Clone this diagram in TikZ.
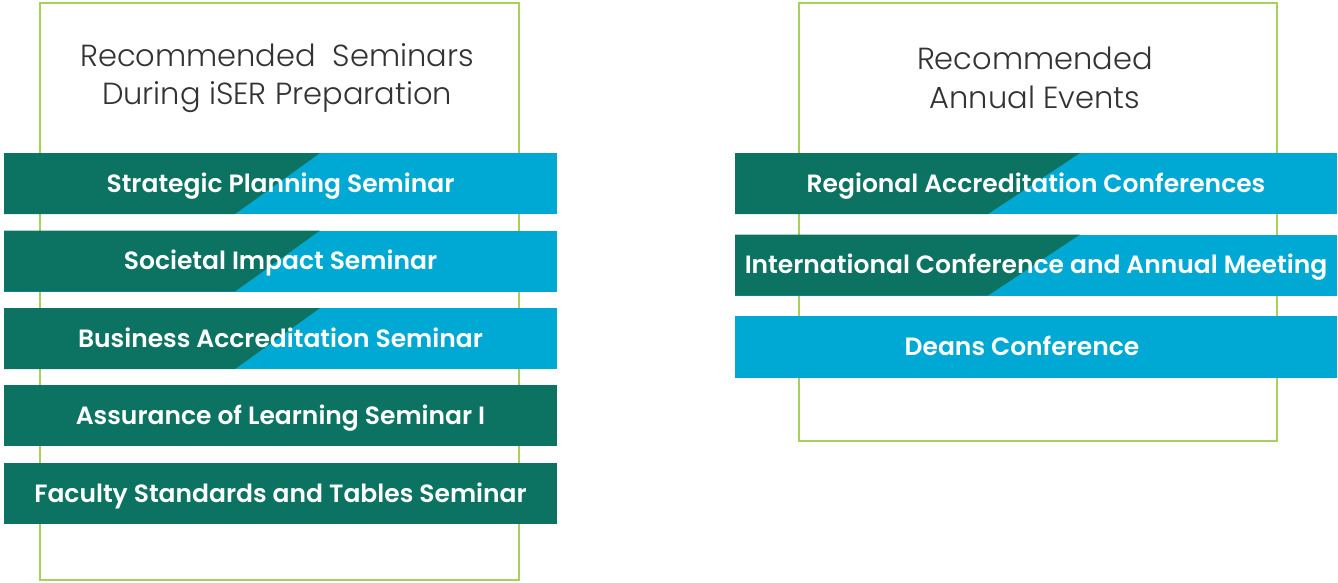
\documentclass[tikz,border=0pt]{standalone}
\usepackage{fontspec}
\setmainfont{Poppins}
\newfontfamily\barfont{Poppins SemiBold}
\newfontfamily\titlefont{Poppins Light}
\definecolor{darkteal}{HTML}{0C7262}
\definecolor{skyblue}{HTML}{00A9D4}
\definecolor{framegreen}{HTML}{A8D05C}
\definecolor{titlegray}{HTML}{333333}
\begin{document}
\begin{tikzpicture}[x=1pt,y=-1pt,
  frame/.style={draw=framegreen,line width=2.5pt,fill=white},
  titletext/.style={text=titlegray,font=\titlefont\fontsize{30.5}{38.5}\selectfont,align=center,inner sep=0pt},
  barbase/.style={inner sep=0pt,text=white,font=\barfont\fontsize{25}{30}\selectfont,anchor=center,text height=17.5pt,text depth=0pt},
  lbar/.style={barbase,minimum width=553pt,minimum height=61pt},
  rbar/.style={barbase,minimum width=602pt,minimum height=61pt},
  lsplit/.style={fill=skyblue,path picture={\fill[darkteal] (path picture bounding box.south west) -- ++(231,0) -- ++(85,-61) -- (path picture bounding box.north west) -- cycle;}},
  rsplit/.style={fill=skyblue,path picture={\fill[darkteal] (path picture bounding box.south west) -- ++(253,0) -- ++(92,-61) -- (path picture bounding box.north west) -- cycle;}},
  solidgreen/.style={fill=darkteal},
  solidblue/.style={fill=skyblue}
]
\useasboundingbox (0,0) rectangle (1338,582);
% frames
\node[frame,minimum width=479pt,minimum height=577pt,inner sep=0pt] (lframe) at (279.5,291.5) {};
\node[frame,minimum width=478pt,minimum height=438pt,inner sep=0pt] (rframe) at (1038,222) {};
% titles
\node[titletext] (ltitle) at (277,78) {Recommended\ \ Seminars\\During iSER Preparation};
\node[titletext] (rtitle) at (1035,78) {Recommended\\Annual Events};
% left bars
\node[lbar,lsplit] (l1) at (280.5,183.5) {Strategic Planning Seminar};
\node[lbar,lsplit] (l2) at (280.5,261) {Societal Impact Seminar};
\node[lbar,lsplit] (l3) at (280.5,338.5) {Business Accreditation Seminar};
\node[lbar,solidgreen] (l4) at (280.5,415.5) {Assurance of Learning Seminar I};
\node[lbar,solidgreen] (l5) at (280.5,493.5) {Faculty Standards and Tables Seminar};
% right bars
\node[rbar,rsplit] (r1) at (1036,183.5) {Regional Accreditation Conferences};
\node[rbar,rsplit] (r2) at (1036,265) {International Conference and Annual Meeting};
\node[rbar,solidblue,minimum height=62pt] (r3) at (1036,347) {\hspace*{-28pt}Deans Conference};
\end{tikzpicture}
\end{document}
